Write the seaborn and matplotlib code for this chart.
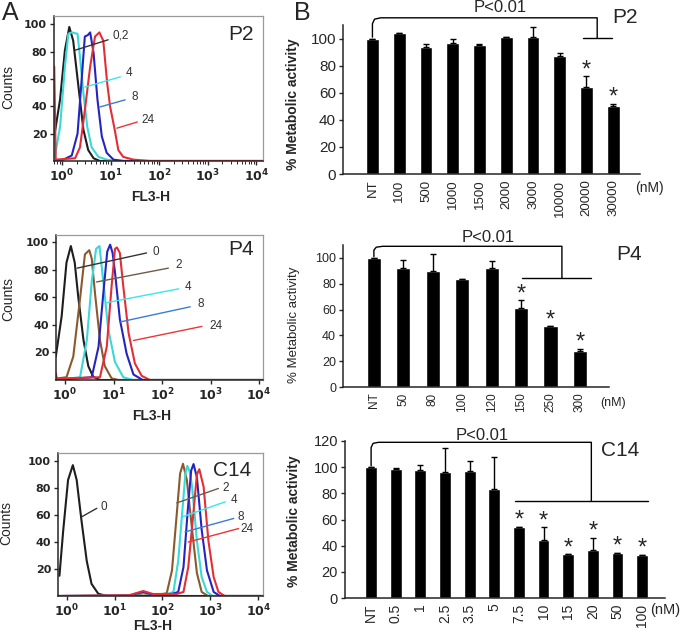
import numpy as np
import pandas as pd
import matplotlib
matplotlib.use('Agg')
import matplotlib.pyplot as plt
import seaborn as sns

# ---- panel A: flow histograms, points read as (log10 FL3-H, counts) ----
p2_h02 = [(-0.16, 18), (-0.04, 45), (0.06, 81), (0.15, 98), (0.23, 88), (0.34, 54),
          (0.44, 23), (0.54, 8), (0.65, 2), (0.78, 0), (4.14, 0)]
p2_h4 = [(-0.15, 3), (-0.04, 25), (0.06, 69), (0.13, 93), (0.2, 94), (0.32, 93),
         (0.37, 76), (0.44, 50), (0.52, 25), (0.61, 10), (0.75, 3), (0.92, 1), (1.13, 0), (4.14, 0)]
p2_h8 = [(-0.16, 0), (0.03, 1), (0.2, 4), (0.32, 20), (0.41, 62), (0.47, 91), (0.53, 92),
         (0.58, 94), (0.65, 79), (0.73, 45), (0.82, 18), (0.92, 6), (1.06, 1), (1.27, 0), (4.14, 0)]
p2_h24 = [(-0.16, 69), (-0.13, 1), (0.27, 2), (0.37, 10), (0.47, 37), (0.58, 69), (0.68, 91),
          (0.77, 94), (0.85, 88), (0.93, 57), (0.99, 40), (1.09, 22), (1.16, 8), (1.26, 3),
          (1.47, 1), (1.81, 0), (4.14, 0)]

p4_h0 = [(-0.19, 17), (-0.07, 46), (0.03, 85), (0.12, 97), (0.2, 85), (0.27, 61),
         (0.38, 29), (0.48, 10), (0.58, 2.4), (0.72, 0), (4.08, 0)]
p4_h2 = [(-0.19, 1), (0.03, 2), (0.17, 17), (0.31, 59), (0.41, 91), (0.5, 94), (0.55, 88),
         (0.62, 62), (0.72, 29), (0.82, 10), (0.96, 1.2), (1.1, 0), (4.08, 0)]
p4_h4 = [(-0.19, 0), (0.31, 2), (0.45, 29), (0.55, 71), (0.64, 95), (0.71, 97), (0.79, 71),
         (0.89, 37), (1.03, 13), (1.2, 2), (1.4, 0), (4.08, 0)]
p4_h8 = [(-0.19, 0), (0.55, 2), (0.69, 24), (0.79, 63), (0.87, 93), (0.93, 98), (0.98, 92),
         (1.03, 78), (1.13, 44), (1.27, 19), (1.41, 4), (1.6, 0), (4.08, 0)]
p4_h24 = [(-0.19, 5), (-0.17, 1), (0.72, 2), (0.86, 24), (0.96, 68), (1.03, 95), (1.07, 96),
          (1.13, 92), (1.2, 68), (1.31, 34), (1.44, 12), (1.58, 3), (1.75, 0), (4.08, 0)]

c14_h0 = [(-0.15, 15), (-0.07, 49), (0.03, 86), (0.13, 97), (0.21, 86), (0.31, 56),
          (0.42, 26), (0.52, 9), (0.66, 1.7), (0.84, 0), (4.1, 0)]
c14_h2 = [(-0.18, 0), (1.3, 0.3), (1.6, 2), (1.8, 1), (2.0, 1.5), (2.09, 2), (2.2, 19),
          (2.3, 61), (2.37, 91), (2.43, 98), (2.51, 86), (2.62, 49), (2.72, 17), (2.82, 3),
          (2.95, 0), (4.1, 0)]
c14_h4 = [(-0.18, 0), (1.3, 0.3), (1.6, 2.5), (1.8, 1), (2.1, 1.5), (2.23, 3), (2.33, 26),
          (2.43, 69), (2.48, 91), (2.52, 96.5), (2.57, 92), (2.62, 81), (2.72, 41), (2.82, 14),
          (2.93, 3), (3.05, 0), (4.1, 0)]
c14_h8 = [(-0.18, 0), (1.3, 0.3), (1.6, 3), (1.8, 1), (2.2, 1.5), (2.33, 3), (2.44, 21.5),
          (2.53, 64), (2.6, 93), (2.65, 97.8), (2.72, 88), (2.82, 49), (2.93, 19), (3.07, 3),
          (3.2, 0), (4.1, 0)]
c14_h24 = [(-0.18, 0), (1.3, 0.5), (1.6, 3.7), (1.8, 1.5), (2.3, 1.5), (2.44, 3), (2.54, 21.5),
           (2.64, 59), (2.72, 90), (2.77, 94), (2.86, 81), (2.96, 41), (3.07, 14), (3.17, 3),
           (3.3, 0), (4.1, 0)]

# ---- panel B: % metabolic activity ----
p2_doses = ['NT', '100', '500', '1000', '1500', '2000', '3000', '10000', '20000', '30000']
p2_activity = [100, 104, 94, 97, 95, 101, 101, 87, 64, 50]
p2_err = [0, 0, 2, 2.5, 1.2, 0, 7.5, 2, 8, 2]
p2_star = [0, 0, 0, 0, 0, 0, 0, 0, 1, 1]

p4_doses = ['NT', '50', '80', '100', '120', '150', '250', '300']
p4_activity = [100, 92, 90, 84, 92.5, 61.5, 47, 28]
p4_err = [0, 6, 13, 0, 5, 6, 0, 1.8]
p4_star = [0, 0, 0, 0, 0, 1, 1, 1]

c14_doses = ['NT', '0.5', '1', '2.5', '3.5', '5', '7.5', '10', '15', '20', '50', '100']
c14_activity = [100, 98.5, 97.7, 96, 97, 83, 54.6, 44, 33.5, 36.5, 34.5, 33]
c14_err = [0, 1.2, 3.6, 18.5, 8, 24.5, 0, 10, 0, 9.5, 0, 0]
c14_star = [0, 0, 0, 0, 0, 0, 1, 1, 1, 1, 1, 1]

sns.set_style('ticks')
plt.rcParams['font.family'] = ['Liberation Sans', 'DejaVu Sans']
plt.rcParams['mathtext.fontset'] = 'dejavusans'

fig = plt.figure(figsize=(6.85, 6.4), dpi=100)

line_col = {'black': '#1e1e1e', 'brown': '#8a5a2e', 'cyan': '#3ad8d8',
            'blue': '#2424c4', 'red': '#e42e36'}
lead_col = {'black': '#333333', 'brown': '#6e5c4a', 'cyan': '#38e6f0',
            'blue': '#3c7cd2', 'red': '#ee3434'}


def flow_panel(rect, curves, xlim, ytop, notes, tag, tag_xy, xlab_y, ylab_x, ylab_y):
    ax = fig.add_axes(rect)
    rows = []
    for name, pts, c in curves:
        for d, n in pts:
            rows.append((name, 10 ** d, n))
    df = pd.DataFrame(rows, columns=['dose', 'fl3', 'counts'])
    pal = {name: line_col[c] for name, _, c in curves}
    sns.lineplot(data=df, x='fl3', y='counts', hue='dose', palette=pal, sort=False,
                 estimator=None, legend=False, lw=1.5, ax=ax)
    ax.set_xscale('log')
    ax.set_xlim(10 ** xlim[0], 10 ** xlim[1])
    ax.set_ylim(0, ytop)
    ax.set_xticks([1, 10, 100, 1000, 10000])
    ax.set_xticklabels([r'$\mathbf{10^{%d}}$' % k for k in range(5)], fontsize=9)
    ax.set_yticks([20, 40, 60, 80, 100])
    ax.set_yticklabels(['20', '40', '60', '80', '100'], fontsize=8,
                       fontweight='bold', family='DejaVu Sans')
    ax.tick_params(axis='both', which='major', length=3, width=1, pad=2)
    ax.tick_params(axis='x', which='minor', length=2, width=0.7)
    for s in ['top', 'right']:
        ax.spines[s].set_color('#9a9a9a')
        ax.spines[s].set_linewidth(0.9)
    for s in ['left', 'bottom']:
        ax.spines[s].set_linewidth(1.1)
    ax.set_xlabel('FL3-H', fontsize=10, fontweight='bold')
    ax.xaxis.set_label_coords(0.46, xlab_y)
    ax.set_ylabel('Counts', fontsize=10)
    ax.yaxis.set_label_coords(ylab_x, ylab_y)
    for label, p0, p1, pt, c in notes:
        ax.plot([10 ** p0[0], 10 ** p1[0]], [p0[1], p1[1]], color=lead_col[c], lw=1)
        ax.text(10 ** pt[0], pt[1], label, fontsize=8.5, ha='left', va='center', color='#333333')
    ax.text(tag_xy[0], tag_xy[1], tag, transform=ax.transAxes, fontsize=15,
            ha='left', va='center')
    return ax


flow_panel([54 / 685, 1 - 161 / 640, 209 / 685, 145 / 640],
           [('0,2', p2_h02, 'black'), ('4', p2_h4, 'cyan'),
            ('8', p2_h8, 'blue'), ('24', p2_h24, 'red')],
           (-0.165, 4.14), 106,
           [('0,2', (0.27, 81), (0.95, 88.6), (1.05, 92), 'black'),
            ('4', (0.47, 54), (1.2, 61.5), (1.32, 64), 'cyan'),
            ('8', (0.78, 39.5), (1.3, 44.7), (1.44, 47), 'blue'),
            ('24', (1.13, 24), (1.55, 28.5), (1.63, 30), 'red')],
           'P2', (0.833, 0.869), -0.2, -0.187, 0.51)

flow_panel([56 / 685, 1 - 380 / 640, 207 / 685, 145 / 640],
           [('0', p4_h0, 'black'), ('2', p4_h2, 'brown'), ('4', p4_h4, 'cyan'),
            ('8', p4_h8, 'blue'), ('24', p4_h24, 'red')],
           (-0.186, 4.08), 105,
           [('0', (0.25, 81), (1.68, 92), (1.81, 93), 'black'),
            ('2', (0.65, 71), (2.13, 81), (2.27, 83), 'brown'),
            ('4', (0.86, 56), (2.34, 66), (2.47, 67), 'cyan'),
            ('8', (1.13, 42), (2.58, 53), (2.72, 55), 'blue'),
            ('24', (1.41, 28.6), (2.82, 38.8), (2.97, 39), 'red')],
           'P4', (0.831, 0.897), -0.2, -0.198, 0.56)

flow_panel([58 / 685, 1 - 596 / 640, 205 / 685, 143 / 640],
           [('0', c14_h0, 'black'), ('2', c14_h2, 'brown'), ('4', c14_h4, 'cyan'),
            ('8', c14_h8, 'blue'), ('24', c14_h24, 'red')],
           (-0.18, 4.1), 106,
           [('0', (0.31, 58.6), (0.63, 65), (0.7, 66), 'black'),
            ('2', (2.3, 69), (3.17, 79.7), (3.25, 80), 'brown'),
            ('4', (2.41, 58.6), (3.31, 69.8), (3.42, 71), 'cyan'),
            ('8', (2.47, 47.5), (3.49, 57.5), (3.56, 58.6), 'blue'),
            ('24', (2.54, 40), (3.59, 50), (3.62, 50), 'red')],
           'C14', (0.756, 0.881), -0.16, -0.22, 0.51)


def bar_panel(rect, doses, vals, errs, stars, xlim, ytop, ystep, fs_tick, fs_x,
              ylab_bold, ylab_x, ylab_y, nm_xy):
    ax = fig.add_axes(rect)
    df = pd.DataFrame({'dose': doses, 'activity': vals})
    sns.barplot(data=df, x='dose', y='activity', color='black', saturation=1,
                width=0.48, errorbar=None, ax=ax)
    pos = np.arange(len(doses))
    ax.errorbar(pos, vals, yerr=[np.zeros(len(errs)), errs], fmt='none', ecolor='black',
                elinewidth=1, capsize=2.5, capthick=1)
    for i in pos:
        if stars[i]:
            ax.text(i, vals[i] + errs[i] + 4.5, '*', ha='center', va='center', fontsize=17)
    ax.set_xlim(*xlim)
    ax.set_ylim(0, ytop)
    ax.set_yticks(np.arange(0, ytop + 1, ystep))
    ax.tick_params(axis='y', labelsize=fs_tick, length=3, width=1, pad=2)
    ax.tick_params(axis='x', labelsize=fs_x, length=0, pad=4, labelrotation=90)
    sns.despine(ax=ax)
    for s in ['left', 'bottom']:
        ax.spines[s].set_linewidth(1.1)
    ax.set_xlabel('')
    ax.set_ylabel('% Metabolic activity', fontsize=10 if ylab_bold else 9.5,
                  fontweight='bold' if ylab_bold else 'normal')
    ax.yaxis.set_label_coords(ylab_x, ylab_y)
    ax.text(nm_xy[0], nm_xy[1], '(nM)', ha='center', va='center', fontsize=fs_x + 0.5)
    return ax


kw = dict(color='black', lw=1, clip_on=False)

ax = bar_panel([343 / 685, 1 - 174 / 640, 297 / 685, 149 / 640], p2_doses, p2_activity,
               p2_err, p2_star, (-1.1, 10.0), 110, 20, 11, 9.5, True, -0.145, 0.47,
               (10.35, -10.5))
ax.plot([0, 0, 0.08, 0.3, 8.4, 8.4], [101, 111, 114.3, 115.3, 115.3, 100.3], **kw)
ax.plot([7.88, 8.95], [100.3, 100.3], **kw)
ax.text(4.77, 122.7, 'P<0.01', ha='center', va='center', fontsize=12)
ax.text(9.45, 115.3, 'P2', ha='center', va='center', fontsize=15)

ax = bar_panel([343 / 685, 1 - 387 / 640, 266 / 685, 142 / 640], p4_doses, p4_activity,
               p4_err, p4_star, (-1.05, 7.99), 110, 20, 9, 8.5, False, -0.162, 0.44,
               (8.13, -12.4))
ax.plot([0, 0, 0.08, 0.3, 6.39, 6.39], [101, 106, 108.3, 109, 109, 84.3], **kw)
ax.plot([5.03, 7.38], [84.3, 84.3], **kw)
ax.text(3.88, 116, 'P<0.01', ha='center', va='center', fontsize=12)
ax.text(8.67, 102.9, 'P4', ha='center', va='center', fontsize=15)

ax = bar_panel([345 / 685, 1 - 598 / 640, 320 / 685, 157 / 640], c14_doses, c14_activity,
               c14_err, c14_star, (-1.06, 11.93), 120, 20, 10.5, 10, True, -0.1375, 0.49,
               (11.95, -9.2))
ax.plot([0, 0, 0.08, 0.3, 8.94, 8.94], [101, 115, 118.2, 119, 119, 74], **kw)
ax.plot([5.85, 11.22], [74, 74], **kw)
ax.text(4.5, 124.4, 'P<0.01', ha='center', va='center', fontsize=12)
ax.text(10.12, 113, 'C14', ha='center', va='center', fontsize=15)

fig.text(2 / 685, 1 - 1 / 640, 'A', ha='left', va='top', fontsize=18)
fig.text(294 / 685, 1 - 1 / 640, 'B', ha='left', va='top', fontsize=18)

fig.savefig('out.png', dpi=100)
